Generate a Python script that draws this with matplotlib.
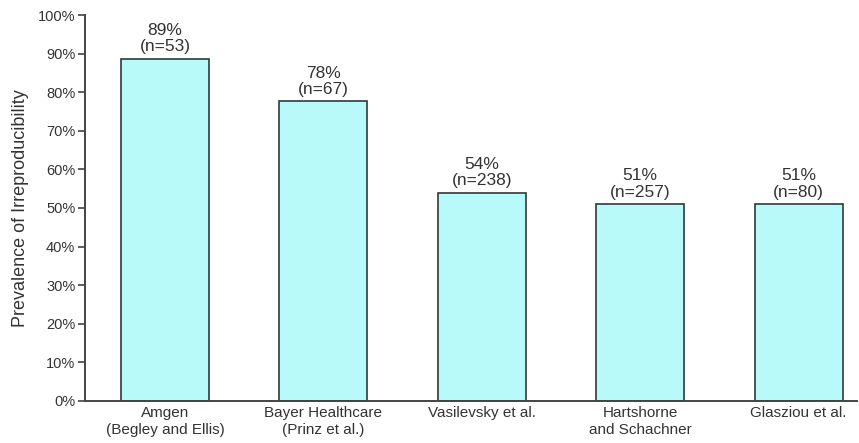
import matplotlib.pyplot as plt
from matplotlib.ticker import FuncFormatter

# data
studies = ["Amgen\n(Begley and Ellis)", "Bayer Healthcare\n(Prinz et al.)",
           "Vasilevsky et al.", "Hartshorne\nand Schachner", "Glasziou et al."]
prevalence = [88.7, 77.6, 54.0, 51.0, 51.0]
pct_labels = ["89%", "78%", "54%", "51%", "51%"]
n_labels = ["n=53", "n=67", "n=238", "n=257", "n=80"]

plt.rcParams['font.family'] = ['Liberation Sans', 'DejaVu Sans']

fig = plt.figure(figsize=(8.59, 4.43), dpi=100)
ax = fig.add_axes([0.099, 0.095, 0.899, 0.871])

x = range(len(studies))
ax.bar(x, prevalence, width=0.555, color="#b8fafa", edgecolor="#2e3a3a", linewidth=1.2)

# value labels above each bar
for i, v in enumerate(prevalence):
    ax.annotate(pct_labels[i] + "\n(" + n_labels[i] + ")", (i, v),
                xytext=(0, 3), textcoords="offset points",
                ha="center", va="bottom", fontsize=12.5, color="#333333",
                linespacing=1.15)

ax.set_xlim(-0.505, 4.37)
ax.set_ylim(0, 100)
ax.set_yticks(range(0, 101, 10))
ax.yaxis.set_major_formatter(FuncFormatter(lambda v, p: "%d%%" % v))
ax.set_xticks(list(x))
ax.set_xticklabels(studies, fontsize=11, color="#333333", linespacing=1.25)
ax.tick_params(axis="x", length=0, pad=4)
ax.tick_params(axis="y", length=5, width=1.2, color="#444444", labelsize=10.5,
               labelcolor="#333333", pad=2)
ax.set_ylabel("Prevalence of Irreproducibility", fontsize=13, color="#333333")
ax.yaxis.set_label_coords(-0.073, 0.5)

for s in ["top", "right"]:
    ax.spines[s].set_visible(False)
for s in ["left", "bottom"]:
    ax.spines[s].set_linewidth(1.4)
    ax.spines[s].set_color("#444444")

fig.savefig("out.png", dpi=100)
